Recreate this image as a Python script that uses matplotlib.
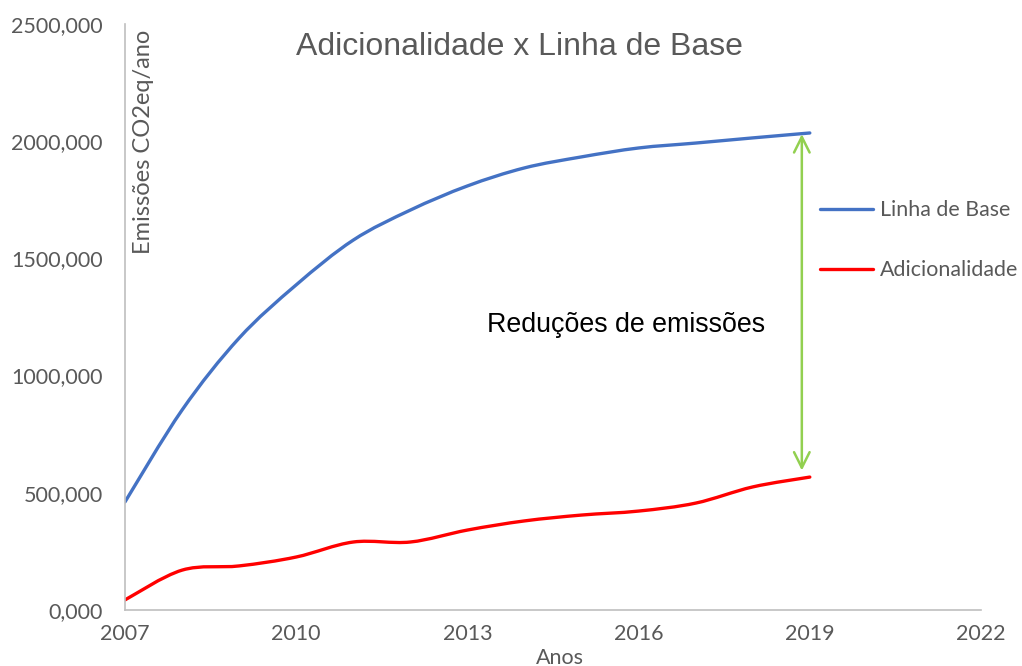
import matplotlib.pyplot as plt
from matplotlib.path import Path
from matplotlib.patches import PathPatch

# Data
anos = [2007, 2008, 2009, 2010, 2011, 2012, 2013, 2014, 2015, 2016, 2017, 2018, 2019]
linha_base = [461, 853, 1160, 1387, 1578, 1706, 1809, 1886, 1933, 1971, 1992, 2014, 2035]
adicionalidade = [43, 170, 188, 226, 290, 290, 341, 380, 405, 422, 456, 525, 567]
x_ticks = [2007, 2010, 2013, 2016, 2019, 2022]
y_ticks = [0, 500, 1000, 1500, 2000, 2500]

GRAY = "#595959"
TICK_FONT = ["Lato", "DejaVu Sans"]


def smooth_path(xs, ys):
    # Excel-like smoothed line: Catmull-Rom segments as cubic Bezier curves
    verts = [(xs[0], ys[0])]
    codes = [Path.MOVETO]
    n = len(xs)
    for i in range(n - 1):
        x0, y0 = (xs[i - 1], ys[i - 1]) if i > 0 else (xs[i], ys[i])
        x1, y1 = xs[i], ys[i]
        x2, y2 = xs[i + 1], ys[i + 1]
        x3, y3 = (xs[i + 2], ys[i + 2]) if i + 2 < n else (x2, y2)
        c1 = (x1 + (x2 - x0) / 6, y1 + (y2 - y0) / 6)
        c2 = (x2 - (x3 - x1) / 6, y2 - (y3 - y1) / 6)
        verts += [c1, c2, (x2, y2)]
        codes += [Path.CURVE4] * 3
    return Path(verts, codes)


fig = plt.figure(figsize=(10.22, 6.66), dpi=100)
ax = fig.add_axes([0.1223, 0.0841, 0.8376, 0.8799])

series = [
    (linha_base, "#4472C4", "Linha de Base"),
    (adicionalidade, "#FF0000", "Adicionalidade"),
]
handles = []
for vals, color, label in series:
    ax.add_patch(PathPatch(smooth_path(anos, vals), facecolor="none",
                           edgecolor=color, lw=2.4, capstyle="round"))
    h, = ax.plot([], [], color=color, lw=2.4, label=label,
                 solid_capstyle="round")
    handles.append(h)

ax.set_xlim(2007, 2022)
ax.set_ylim(0, 2500)
ax.set_xticks(x_ticks)
ax.set_yticks(y_ticks)
ax.set_yticklabels([f"{v},000" for v in y_ticks])
ax.tick_params(length=0, labelsize=15.5, labelcolor=GRAY)
ax.tick_params(axis="x", pad=10)
ax.tick_params(axis="y", pad=16)
for lab in ax.get_xticklabels() + ax.get_yticklabels():
    lab.set_family(TICK_FONT)

for side in ["top", "right"]:
    ax.spines[side].set_visible(False)
for side in ["left", "bottom"]:
    ax.spines[side].set_color("#BFBFBF")
    ax.spines[side].set_linewidth(1.2)

# arrow showing the emission reductions
ax.annotate("", xy=(2018.86, 2030), xytext=(2018.86, 595),
            arrowprops=dict(arrowstyle="<->", color="#92D050", lw=1.8,
                            mutation_scale=28, shrinkA=0, shrinkB=0))
ax.text(2013.34, 1215, "Reduções de emissões", fontsize=19.3,
        family="Liberation Sans", color="black", ha="left", va="center")

fig.text(0.508, 0.93, "Adicionalidade x Linha de Base", fontsize=23,
         family="Liberation Sans", color=GRAY, ha="center", va="center")
fig.text(0.14, 0.955, "Emissões CO2eq/ano", rotation=90, fontsize=17,
         family=TICK_FONT, color=GRAY, ha="center", va="top")
fig.text(0.548, 0.012, "Anos", fontsize=15.5, family=TICK_FONT,
         color=GRAY, ha="center", va="center")

ax.legend(handles=handles, loc="center left", bbox_to_anchor=(0.789, 0.631),
          frameon=False, labelspacing=1.85, handlelength=2.5,
          handletextpad=0.3, prop={"family": TICK_FONT, "size": 15.4},
          labelcolor=GRAY)

fig.savefig("out.png", dpi=100)
